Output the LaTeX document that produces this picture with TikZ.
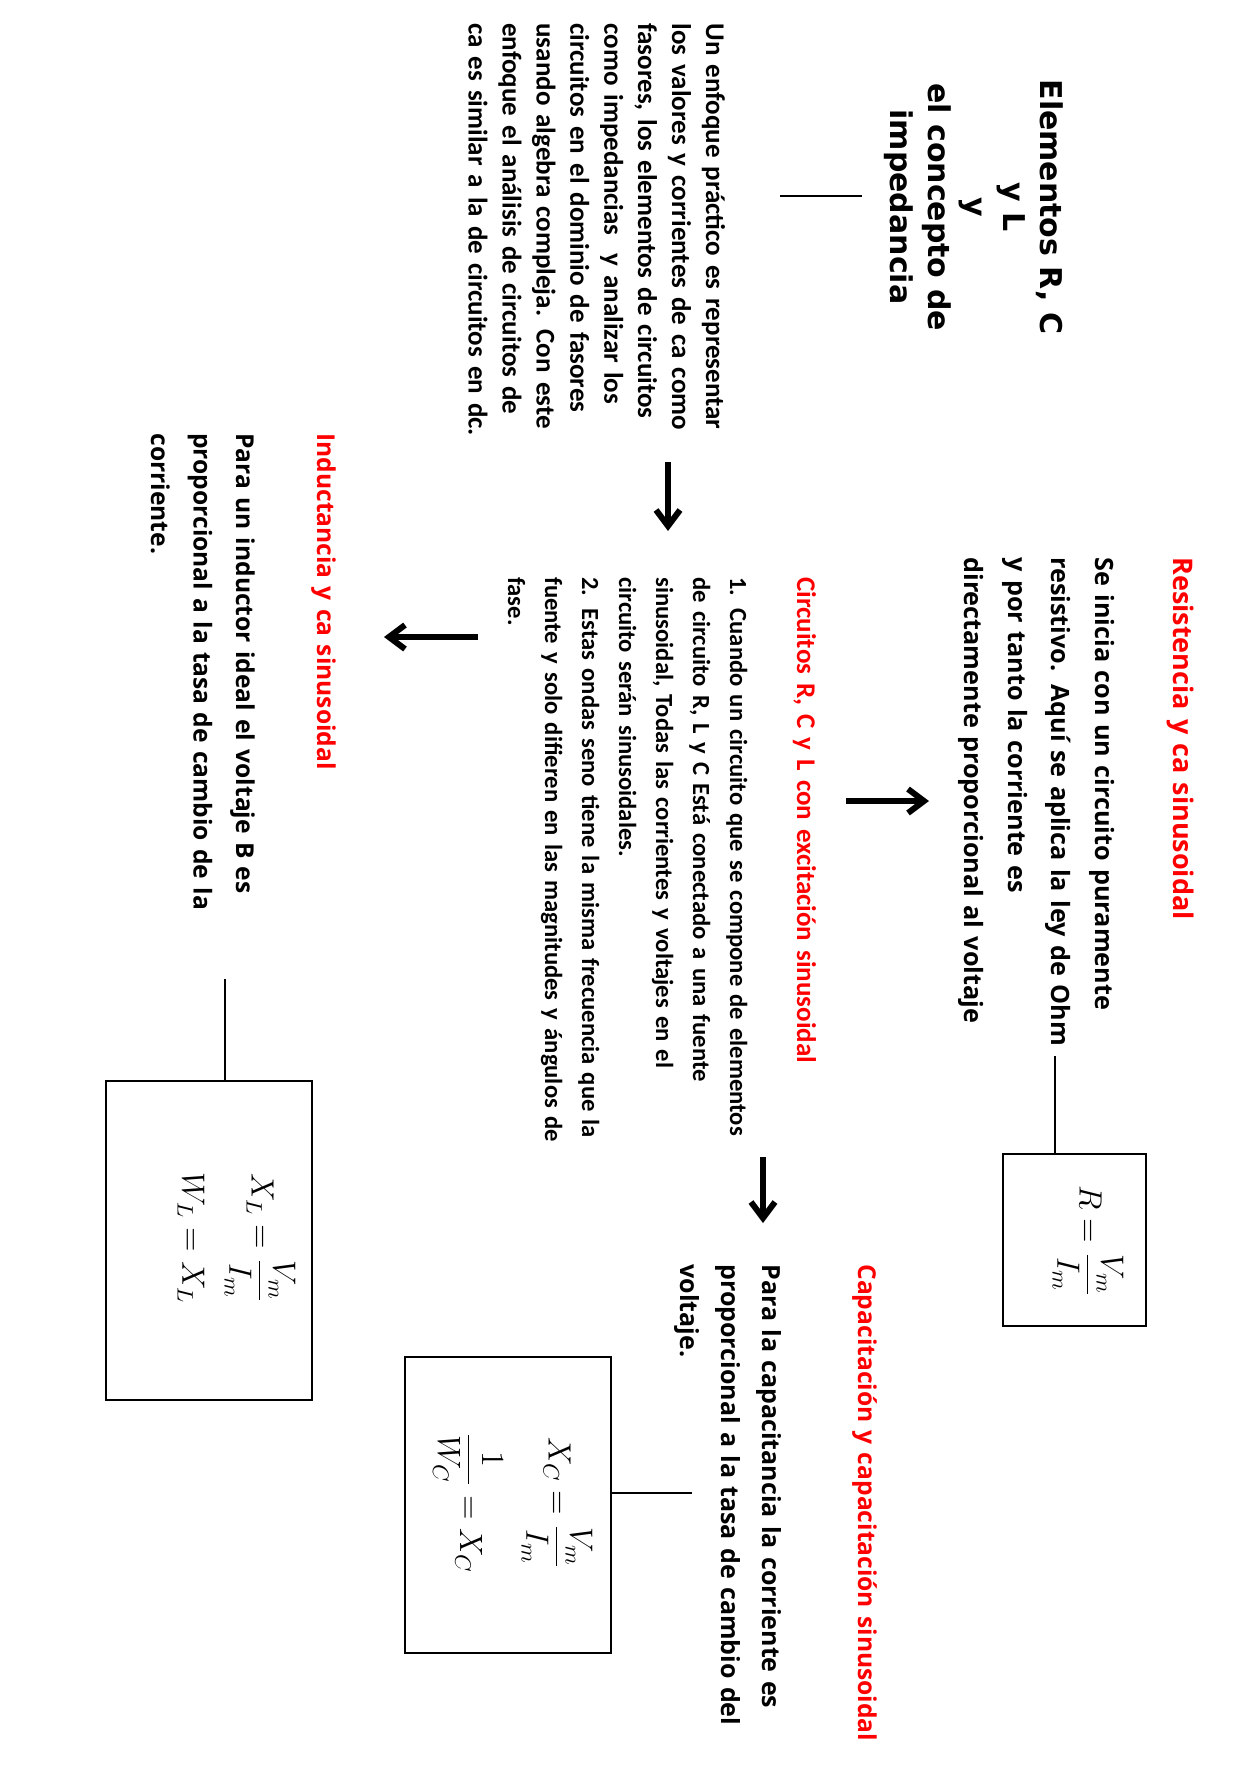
\documentclass[tikz,border=0pt]{standalone}
\usepackage{fontspec}
\usepackage{amsmath}
\usetikzlibrary{arrows.meta}
\newfontfamily\titlefont{DejaVu Sans}
\newfontfamily\carl{Carlito}
\newfontfamily\osans{Open Sans}
\definecolor{hred}{RGB}{255,0,0}
\begin{document}
\begin{tikzpicture}[x=0.5pt,y=-0.5pt,
  txt/.style={rotate=-90, anchor=base west, inner sep=0pt, align=left, text width=420pt},
  formula/.style={rotate=-90, anchor=center, inner sep=0pt, font=\Large, scale=1.12},
  fbox/.style={draw, line width=0.9pt, inner sep=0pt},
  conn/.style={line width=0.9pt},
  arr/.style={line width=3pt, -{Straight Barb[length=8pt,width=12pt]}}
]
\fill[white] (0,0) rectangle (1256,1772);
\useasboundingbox (0,0) rectangle (1256,1772);

% title
\node[rotate=-90, anchor=center, inner sep=0pt, align=center,
      font=\titlefont\bfseries\fontsize{15}{18.75}\selectfont] (title) at (974,207)
  {Elementos R, C\\y L\\y\\el concepto de\\impedancia};

% intro
\node[txt, font=\carl\bfseries\fontsize{13.5}{16.95}\selectfont] (intro) at (706,23)
  {Un enfoque práctico es representar\\los valores y corrientes de ca como\\fasores, los elementos de circuitos\\como impedancias\ \ y analizar los\\circuitos en el dominio de fasores\\usando algebra compleja. Con este\\enfoque el análisis de circuitos de\\ca es similar a la de circuitos en dc.};

\coordinate (tA) at (862,196);
\coordinate (tB) at (780,196);
\draw[line width=0.8pt] (tA) -- (tB);

% Resistencia
\node[txt, text=hred, font=\osans\bfseries\fontsize{13.5}{16}\selectfont] (rhead) at (1173,557)
  {Resistencia y ca sinusoidal};
\node[txt, font=\osans\bfseries\fontsize{12.6}{21.75}\selectfont] (rbody) at (1095,557)
  {Se inicia con un circuito puramente\\resistivo. Aquí se aplica la ley de Ohm\\y por tanto la corriente es\\directamente proporcional al voltaje};

\node[fbox, minimum width=71.5pt, minimum height=86pt] (rbox) at (1074.5,1240) {};
\node[formula] (rform) at (1088,1241) {$\displaystyle R=\frac{V_m}{I_m}$};
\coordinate (rc) at (1055,1056);
\draw[conn] (rc) -- (rc |- rbox.north);

% Circuitos
\node[txt, text=hred, font=\carl\bfseries\fontsize{13.5}{16}\selectfont] (chead) at (797,577)
  {Circuitos R, C y L con excitación sinusoidal};
\node[txt, font=\carl\bfseries\fontsize{12.3}{18.5}\selectfont] (cbody) at (730,577)
  {1. Cuando un circuito que se compone de elementos\\de circuito R, L y C Está conectado a una fuente\\sinusoidal, Todas las corrientes y voltajes en el\\circuito serán sinusoidales.\\2. Estas ondas seno tiene la misma frecuencia que la\\fuente y solo difieren en las magnitudes y ángulos de\\fase.};

% Capacitacion
\node[txt, text=hred, font=\osans\bfseries\fontsize{12.3}{16}\selectfont] (khead) at (858,1264)
  {Capacitación y capacitación sinusoidal};
\node[txt, font=\osans\bfseries\fontsize{12.5}{20.5}\selectfont] (kbody) at (762,1264)
  {Para la capacitancia la corriente es\\proporcional a la tasa de cambio del\\voltaje.};

\node[fbox, minimum width=103pt, minimum height=148pt] (kbox) at (508,1505) {};
\node[formula] (kform1) at (557,1503) {$\displaystyle X_C=\frac{V_m}{I_m}$};
\node[formula] (kform2) at (468,1503) {$\displaystyle \frac{1}{W_C}=X_C$};
\coordinate (kc) at (692,1493);
\draw[conn] (kc) -- (kc -| kbox.east);

% Inductancia
\node[txt, text=hred, font=\osans\bfseries\fontsize{12.3}{16}\selectfont] (lhead) at (317,433)
  {Inductancia y ca sinusoidal};
\node[txt, font=\osans\bfseries\fontsize{12.3}{21.25}\selectfont] (lbody) at (236,433)
  {Para un inductor ideal el voltaje B es\\proporcional a la tasa de cambio de la\\corriente.};

\node[fbox, minimum width=103pt, minimum height=159.5pt] (lbox) at (209,1240.5) {};
\node[formula] (lform1) at (260,1238) {$\displaystyle X_L=\frac{V_m}{I_m}$};
\node[formula] (lform2) at (191,1238) {$\displaystyle W_L=X_L$};
\coordinate (lc) at (225,979);
\draw[conn] (lc) -- (lc |- lbox.north);

% arrows
\coordinate (a1s) at (668,462); \coordinate (a1e) at (668,531);
\coordinate (a2s) at (846,801); \coordinate (a2e) at (929,801);
\coordinate (a3s) at (478,637); \coordinate (a3e) at (384,637);
\coordinate (a4s) at (763,1157); \coordinate (a4e) at (763,1223);
\draw[arr] (a1s) -- (a1e);
\draw[arr] (a2s) -- (a2e);
\draw[arr] (a3s) -- (a3e);
\draw[arr] (a4s) -- (a4e);
\end{tikzpicture}
\end{document}
